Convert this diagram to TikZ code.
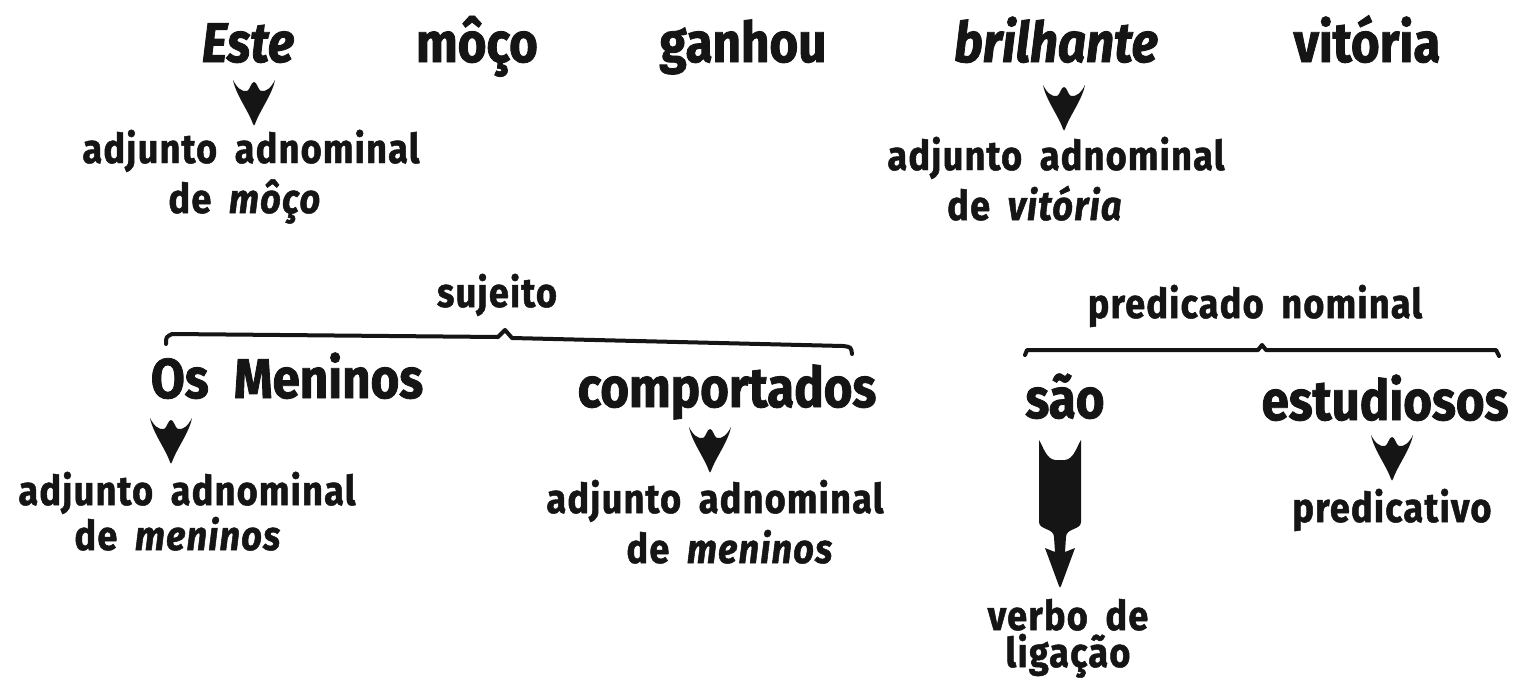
\documentclass[tikz,border=0pt]{standalone}
\usepackage{fontspec}
\setmainfont{Fira Sans}[FakeStretch=0.88]
\newfontfamily\wordfont{Fira Sans}[FakeStretch=0.88, FakeBold=1.5]
\newfontfamily\lblfont{Fira Sans}[FakeStretch=0.88, FakeBold=1.2, LetterSpace=3, WordSpace=1.8]
\definecolor{ink}{HTML}{151515}
\tikzset{
  word/.style={font=\wordfont\fontsize{56}{60}\selectfont\bfseries, inner sep=0pt, anchor=base, text=ink},
  wordit/.style={word, font=\wordfont\fontsize{56}{60}\selectfont\bfseries\itshape},
  lbl/.style={font=\lblfont\fontsize{41}{44}\selectfont\bfseries, inner sep=0pt, anchor=base, text=ink},
  pics/smallarrow/.style={code={
    \fill[ink] (-21,0) .. controls (-17,8) and (-12,12) .. (-7,11)
      .. controls (-4,10) and (-3,2) .. (0,2)
      .. controls (3,2) and (4,10) .. (7,11)
      .. controls (12,12) and (17,8) .. (21,0)
      .. controls (18,15) and (6,30) .. (1,44)
      .. controls (0,46) .. (-1,44)
      .. controls (-6,30) and (-18,15) .. (-21,0) -- cycle;}},
  pics/bigarrow/.style={code={
    \fill[ink] (-21,0) .. controls (-17,6) and (-14,19) .. (-5,20) -- (5,20)
      .. controls (14,19) and (17,6) .. (21,0) -- (21,82)
      .. controls (21,90) and (6,88) .. (6,97) -- (5,112) -- (15,108)
      -- (1,146) .. controls (0,148) .. (-1,146) -- (-15,108) -- (-5,112) -- (-6,97)
      .. controls (-6,88) and (-21,90) .. (-21,82) -- cycle;}},
  bar/.style={draw=ink, line width=4pt, line cap=round, line join=round}
}
\begin{document}
\begin{tikzpicture}[x=1pt,y=-1pt]
\useasboundingbox[fill=white] (0,0) rectangle (1525,680);
% top sentence
\node[wordit] (este) at (248,62) {Este};
\node[word] (moco) at (477,62) {môço};
\node[word] (ganhou) at (743,62) {ganhou};
\node[wordit] (brilhante) at (1056,62) {brilhante};
\node[word] (vitoria) at (1367,62) {vitória};
\coordinate (a1) at (254,80);
\coordinate (a2) at (1064,85);
\pic at (a1) {smallarrow};
\pic at (a2) {smallarrow};
\node[lbl] (l1a) at (251,163) {adjunto adnominal};
\node[lbl] (l1b) at (245,213) {de \textit{môço}};
\node[lbl] (l2a) at (1056,170) {adjunto adnominal};
\node[lbl] (l2b) at (1035,220) {de \textit{vitória}};
% second sentence
\node[lbl] (sujeito) at (497,307) {sujeito};
\draw[bar] (166,344) .. controls (166,337) .. (172,334) -- (498,337) -- (505,330) -- (512,338) -- (843,346) .. controls (851,347) .. (852,354);
\node[word] (meninos) at (287,398) {Os\hspace{0.45em}Meninos};
\node[word] (comport) at (727,407) {comportados};
\coordinate (a3) at (171,418);
\coordinate (a4) at (710,427);
\pic at (a3) {smallarrow};
\pic at (a4) {smallarrow};
\node[lbl] (l3a) at (187,505) {adjunto adnominal};
\node[lbl] (l3b) at (178,550) {de \textit{meninos}};
\node[lbl] (l4a) at (715,513) {adjunto adnominal};
\node[lbl] (l4b) at (730,563) {de \textit{meninos}};
\node[lbl] (pred) at (1255,318) {predicado nominal};
\draw[bar] (1025,355) -- (1027,350) -- (1258,350) -- (1262,345) -- (1266,350) -- (1496,350) -- (1499,356);
\node[word] (sao) at (1065,418) {são};
\node[word] (estud) at (1385,420) {estudiosos};
\coordinate (a5) at (1060,440);
\coordinate (a6) at (1392,435);
\pic at (a5) {bigarrow};
\pic at (a6) {smallarrow};
\node[lbl] (verbo) at (1068,630) {verbo de};
\node[lbl] (lig) at (1068,667) {ligação};
\node[lbl] (predic) at (1392,522) {predicativo};
\end{tikzpicture}
\end{document}
